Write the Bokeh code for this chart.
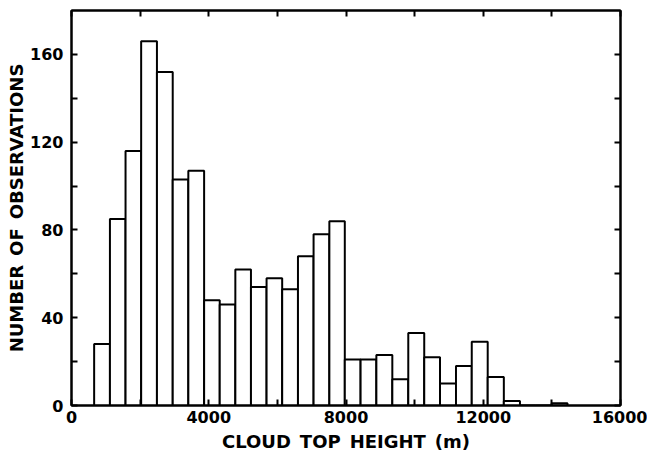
from bokeh.plotting import figure
from bokeh.models import FixedTicker, LinearAxis, ColumnDataSource
from bokeh.embed import file_html
from bokeh.resources import INLINE

# Histogram of cloud top heights (bins ~1500 ft = ~457 m wide)
bin_edges = [660, 1120, 1575, 2030, 2490, 2950, 3405, 3865, 4320, 4775,
             5230, 5685, 6140, 6600, 7055, 7515, 7965, 8425, 8885, 9350,
             9815, 10280, 10740, 11205, 11665, 12130, 12600, 13070, 13530,
             13995, 14455]
counts = [28, 85, 116, 166, 152, 103, 107, 48, 46, 62,
          54, 58, 53, 68, 78, 84, 21, 21, 23, 12,
          33, 22, 10, 18, 29, 13, 2, 0, 0, 1]

x_major = [0, 4000, 8000, 12000, 16000]
x_minor = [2000, 6000, 10000, 14000]
y_major = [0, 40, 80, 120, 160]
y_minor = [20, 60, 100, 140]

FONT = "DejaVu Sans"

src = ColumnDataSource(dict(left=bin_edges[:-1], right=bin_edges[1:],
                            top=counts, bottom=[0] * len(counts)))

p = figure(width=647, height=457, x_range=(0, 16000), y_range=(0, 180),
           output_backend="svg", toolbar_location=None,
           min_border_left=71, min_border_right=27, min_border_top=10,
           min_border_bottom=52)
p.background_fill_color = "white"
p.border_fill_color = "white"
p.outline_line_color = "black"
p.outline_line_width = 2
p.grid.visible = False

p.quad(left="left", right="right", top="top", bottom="bottom", source=src,
       fill_color="white", line_color="black", line_width=2)

def style(ax, ticks, minor, show_labels):
    ax.ticker = FixedTicker(ticks=ticks, minor_ticks=minor)
    ax.axis_line_color = "black"
    ax.axis_line_width = 2
    ax.major_tick_in = 6
    ax.major_tick_out = 0
    ax.minor_tick_in = 6
    ax.minor_tick_out = 0
    ax.major_tick_line_width = 2
    ax.minor_tick_line_width = 2
    ax.major_tick_line_color = "black"
    ax.minor_tick_line_color = "black"
    if show_labels:
        ax.major_label_text_font = FONT
        ax.major_label_text_font_size = "16px"
        ax.major_label_text_font_style = "bold"
        ax.major_label_text_color = "black"
        ax.axis_label_text_font = FONT
        ax.axis_label_text_font_size = "18px"
        ax.axis_label_text_font_style = "bold"
        ax.axis_label_text_color = "black"
    else:
        ax.major_label_overrides = {t: "" for t in ticks}
        ax.major_label_standoff = 0

style(p.xaxis[0], x_major, x_minor, True)
style(p.yaxis[0], y_major, y_minor, True)
p.xaxis[0].axis_label = "CLOUD\u2002TOP\u2002HEIGHT\u2002(m)"
p.yaxis[0].axis_label = "NUMBER\u2002OF\u2002OBSERVATIONS"
p.xaxis[0].major_label_standoff = 5
p.yaxis[0].major_label_standoff = 8
p.xaxis[0].axis_label_standoff = 5
p.yaxis[0].axis_label_standoff = 0

top_ax = LinearAxis()
right_ax = LinearAxis()
style(top_ax, x_major, x_minor, False)
style(right_ax, y_major, y_minor, False)
p.add_layout(top_ax, "above")
p.add_layout(right_ax, "right")

open("out.html", "w").write(file_html(p, INLINE))
